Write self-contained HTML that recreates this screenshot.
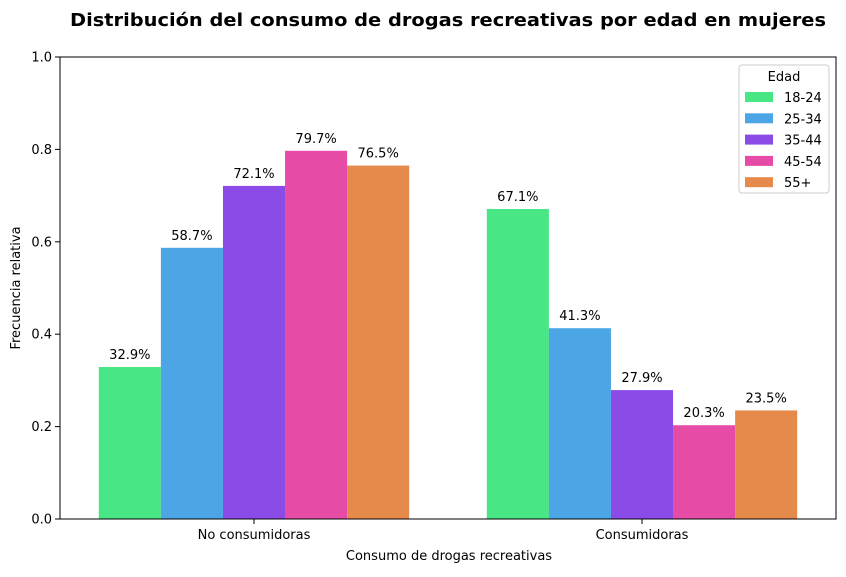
<!DOCTYPE html>
<html><head><meta charset="utf-8"><style>
body{margin:0;background:#fff;}
svg text{font-family:"DejaVu Sans","Liberation Sans",sans-serif;fill:#000;}
</style></head><body>
<svg id="chart" width="846" height="572" xmlns="http://www.w3.org/2000/svg">
<text x="448" y="26" text-anchor="middle" font-size="18" font-weight="bold" textLength="756" lengthAdjust="spacingAndGlyphs">Distribución del consumo de drogas recreativas por edad en mujeres</text>
<g id="bars"></g>
<g id="axes"></g>
<rect x="60" y="57" width="776" height="462" fill="none" stroke="#000" stroke-width="1"/>
<text x="449" y="560" text-anchor="middle" font-size="13">Consumo de drogas recreativas</text>
<text transform="translate(20,288) rotate(-90)" text-anchor="middle" font-size="13">Frecuencia relativa</text>
<g id="legend">
<rect x="739" y="65" width="90" height="128" rx="3" fill="#fff" stroke="#ccc"/>
<text x="784" y="81" text-anchor="middle" font-size="13">Edad</text>
</g>
</svg>
<script>
const categories=["No consumidoras","Consumidoras"];
const groups=["18-24","25-34","35-44","45-54","55+"];
const colors=["#48e685","#4ca6e6","#8a4be6","#e64ca6","#e68a4b"];
const noConsumidoras=[0.329,0.587,0.721,0.797,0.765];
const consumidoras=[0.671,0.413,0.279,0.203,0.235];
const yTicks=[0,0.2,0.4,0.6,0.8,1.0];
const series=[noConsumidoras,consumidoras];
const NS="http://www.w3.org/2000/svg";
const L=60,R=836,T=57,B=519;
const y=v=>B-(v/1.0)*(B-T);
const x=u=>L+(u+0.5)*(R-L)/2;
const bw=0.8/groups.length;
function mk(tag,attrs,parent){const e=document.createElementNS(NS,tag);for(const k in attrs)e.setAttribute(k,attrs[k]);parent.appendChild(e);return e;}
const bars=document.getElementById('bars'),axes=document.getElementById('axes'),legend=document.getElementById('legend');
categories.forEach((c,ci)=>{
  groups.forEach((g,gi)=>{
    const v=series[ci][gi];
    const x0=x(ci-0.4+gi*bw),x1=x(ci-0.4+(gi+1)*bw);
    const r=mk('rect',{x:x0,y:y(v),width:x1-x0,height:B-y(v),fill:colors[gi]},bars);
    
    
    const t=mk('text',{x:(x0+x1)/2,y:y(v)-8,'text-anchor':'middle','font-size':'13'},bars);
    t.textContent=(v*100).toFixed(1)+'%';
    
    
  });
  mk('line',{x1:x(ci),x2:x(ci),y1:B,y2:B+5,stroke:'#000'},axes);
  const t=mk('text',{x:x(ci),y:B+20,'text-anchor':'middle','font-size':'13'},axes);
  t.textContent=c;
  
  
});
yTicks.forEach(v=>{
  mk('line',{x1:L-5,x2:L,y1:y(v),y2:y(v),stroke:'#000'},axes);
  const t=mk('text',{x:L-8,y:y(v)+4.5,'text-anchor':'end','font-size':'13'},axes);
  t.textContent=v.toFixed(1);
  
  
});
groups.forEach((g,gi)=>{
  const yy=97+gi*21.3;
  const s=mk('rect',{x:745,y:yy-5,width:28,height:10,fill:colors[gi]},legend);
  
  
  const t=mk('text',{x:784,y:yy+5,'font-size':'13'},legend);
  t.textContent=g;
  
  
});
</script>
</body></html>
